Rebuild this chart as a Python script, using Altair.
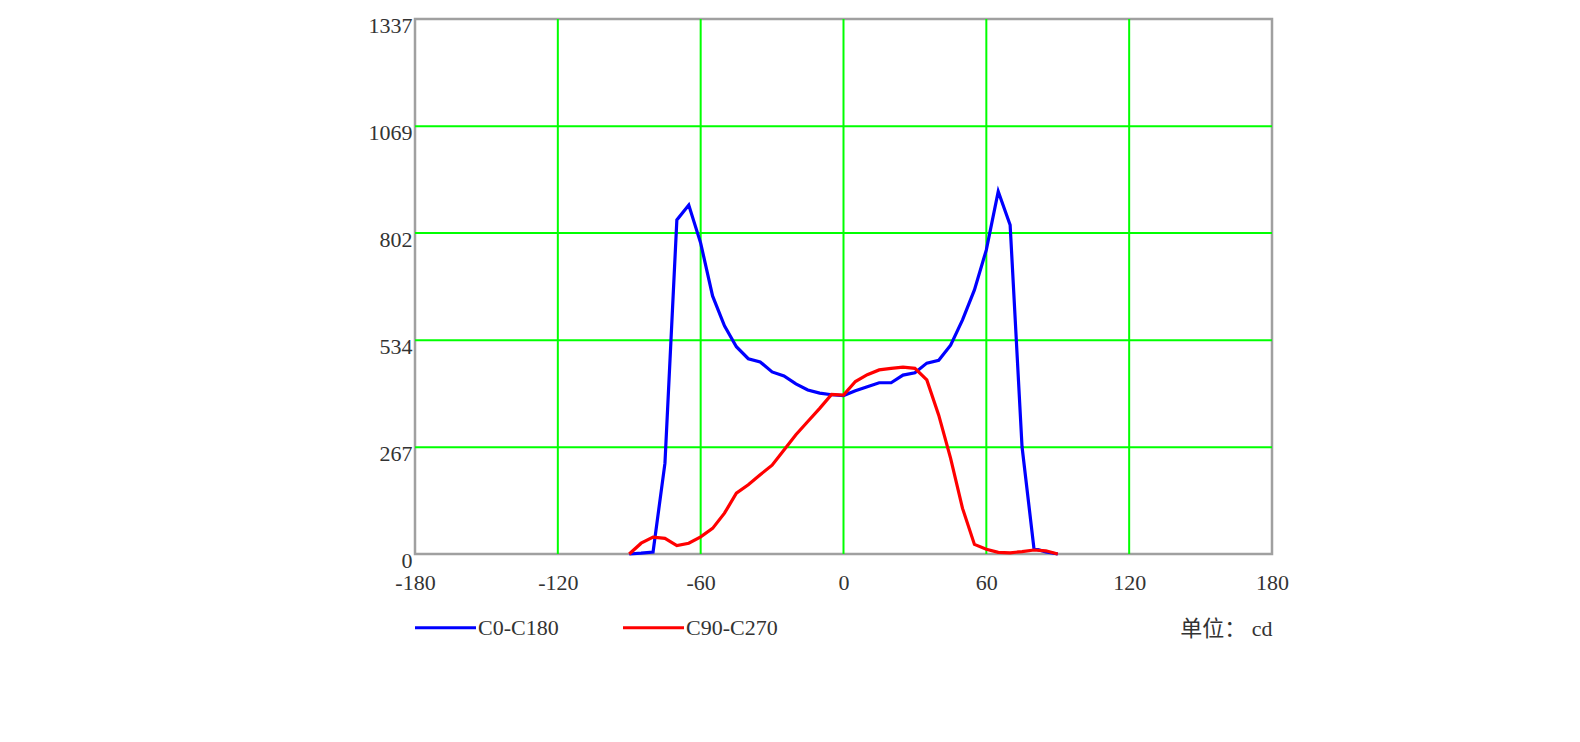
import altair as alt
import pandas as pd

ANGLES = list(range(-90, 91, 5))
C0_C180 = [0, 2, 5, 227, 835, 872, 777, 645, 570, 518, 488, 480, 455, 445, 425, 410, 402, 398, 396,
           408, 418, 428, 428, 447, 453, 477, 484, 522, 585, 660, 760, 906, 822, 268, 14, 5, 0]
C90_C270 = [0, 27, 42, 39, 21, 27, 43, 64, 102, 152, 173, 198, 222, 260, 298, 331, 364, 399, 397,
            431, 448, 460, 464, 467, 464, 435, 347, 239, 114, 24, 12, 4, 3, 6, 10, 8, 0]
SERIES = ["C0-C180", "C90-C270"]
COLORS = ["#0000ff", "#ff0000"]
X_TICKS = [-180, -120, -60, 0, 60, 120, 180]
Y_TICKS = [0, 267, 534, 802, 1069, 1337]
GRID_X = [-120, -60, 0, 60, 120]
GRID_Y = [267, 534, 802, 1069]
UNIT = "单位：  cd"

FONT = "Liberation Serif, Noto Sans CJK SC"

rows = []
for name, vals in zip(SERIES, [C0_C180, C90_C270]):
    for a, v in zip(ANGLES, vals):
        rows.append({"angle": a, "value": v, "series": name})
df = pd.DataFrame(rows)

xscale = alt.Scale(domain=[-180, 180], nice=False, zero=False)
yscale = alt.Scale(domain=[0, 1337], nice=False)

xaxis = alt.Axis(values=X_TICKS, grid=False, ticks=False, domain=False,
                 labelExpr="'' + datum.value",
                 labelFont=FONT, labelFontSize=22, labelColor="#333333",
                 labelPadding=18, labelBaseline="top", labelFlush=False,
                 title=UNIT, titleFont=FONT, titleFontSize=22, titleFontWeight="normal",
                 titleColor="#333333", titleX=857, titleY=74, titleAlign="right",
                 titleBaseline="middle", titleAnchor="end")
yaxis = alt.Axis(values=Y_TICKS, grid=False, ticks=False, domain=False,
                 labelExpr="'' + datum.value",
                 labelFont=FONT, labelFontSize=22, labelColor="#333333",
                 labelPadding=3, labelBaseline="top", labelFlush=False,
                 labelOffset=-4, title=None)

gx = alt.Chart(pd.DataFrame({"g": GRID_X})).mark_rule(color="#00ff00", strokeWidth=2).encode(
    x=alt.X("g:Q", scale=xscale, axis=xaxis)
)
gy = alt.Chart(pd.DataFrame({"g": GRID_Y})).mark_rule(color="#00ff00", strokeWidth=2).encode(
    y=alt.Y("g:Q", scale=yscale, axis=yaxis)
)

lines = alt.Chart(df).mark_line(strokeWidth=3.2).encode(
    x=alt.X("angle:Q", scale=xscale, axis=xaxis),
    y=alt.Y("value:Q", scale=yscale, axis=yaxis),
    color=alt.Color("series:N", scale=alt.Scale(domain=SERIES, range=COLORS),
                    legend=alt.Legend(title=None, orient="none", legendX=-2, legendY=576,
                                      direction="horizontal", symbolType="stroke",
                                      symbolSize=3721, symbolStrokeWidth=3.2,
                                      labelFont=FONT, labelFontSize=22, labelColor="#333333",
                                      labelOffset=0, columnPadding=57)),
    order=alt.Order("series:N")
)

chart = alt.layer(gx, gy, lines).properties(
    width=857, height=535,
    autosize=alt.AutoSizeParams(type="none"),
    padding={"left": 407, "top": 11, "right": 300, "bottom": 180},
).configure(background="white").configure_view(stroke="#a0a0a0", strokeWidth=2.5)

chart.save("out.html", embed_options={"renderer": "svg", "actions": False})
